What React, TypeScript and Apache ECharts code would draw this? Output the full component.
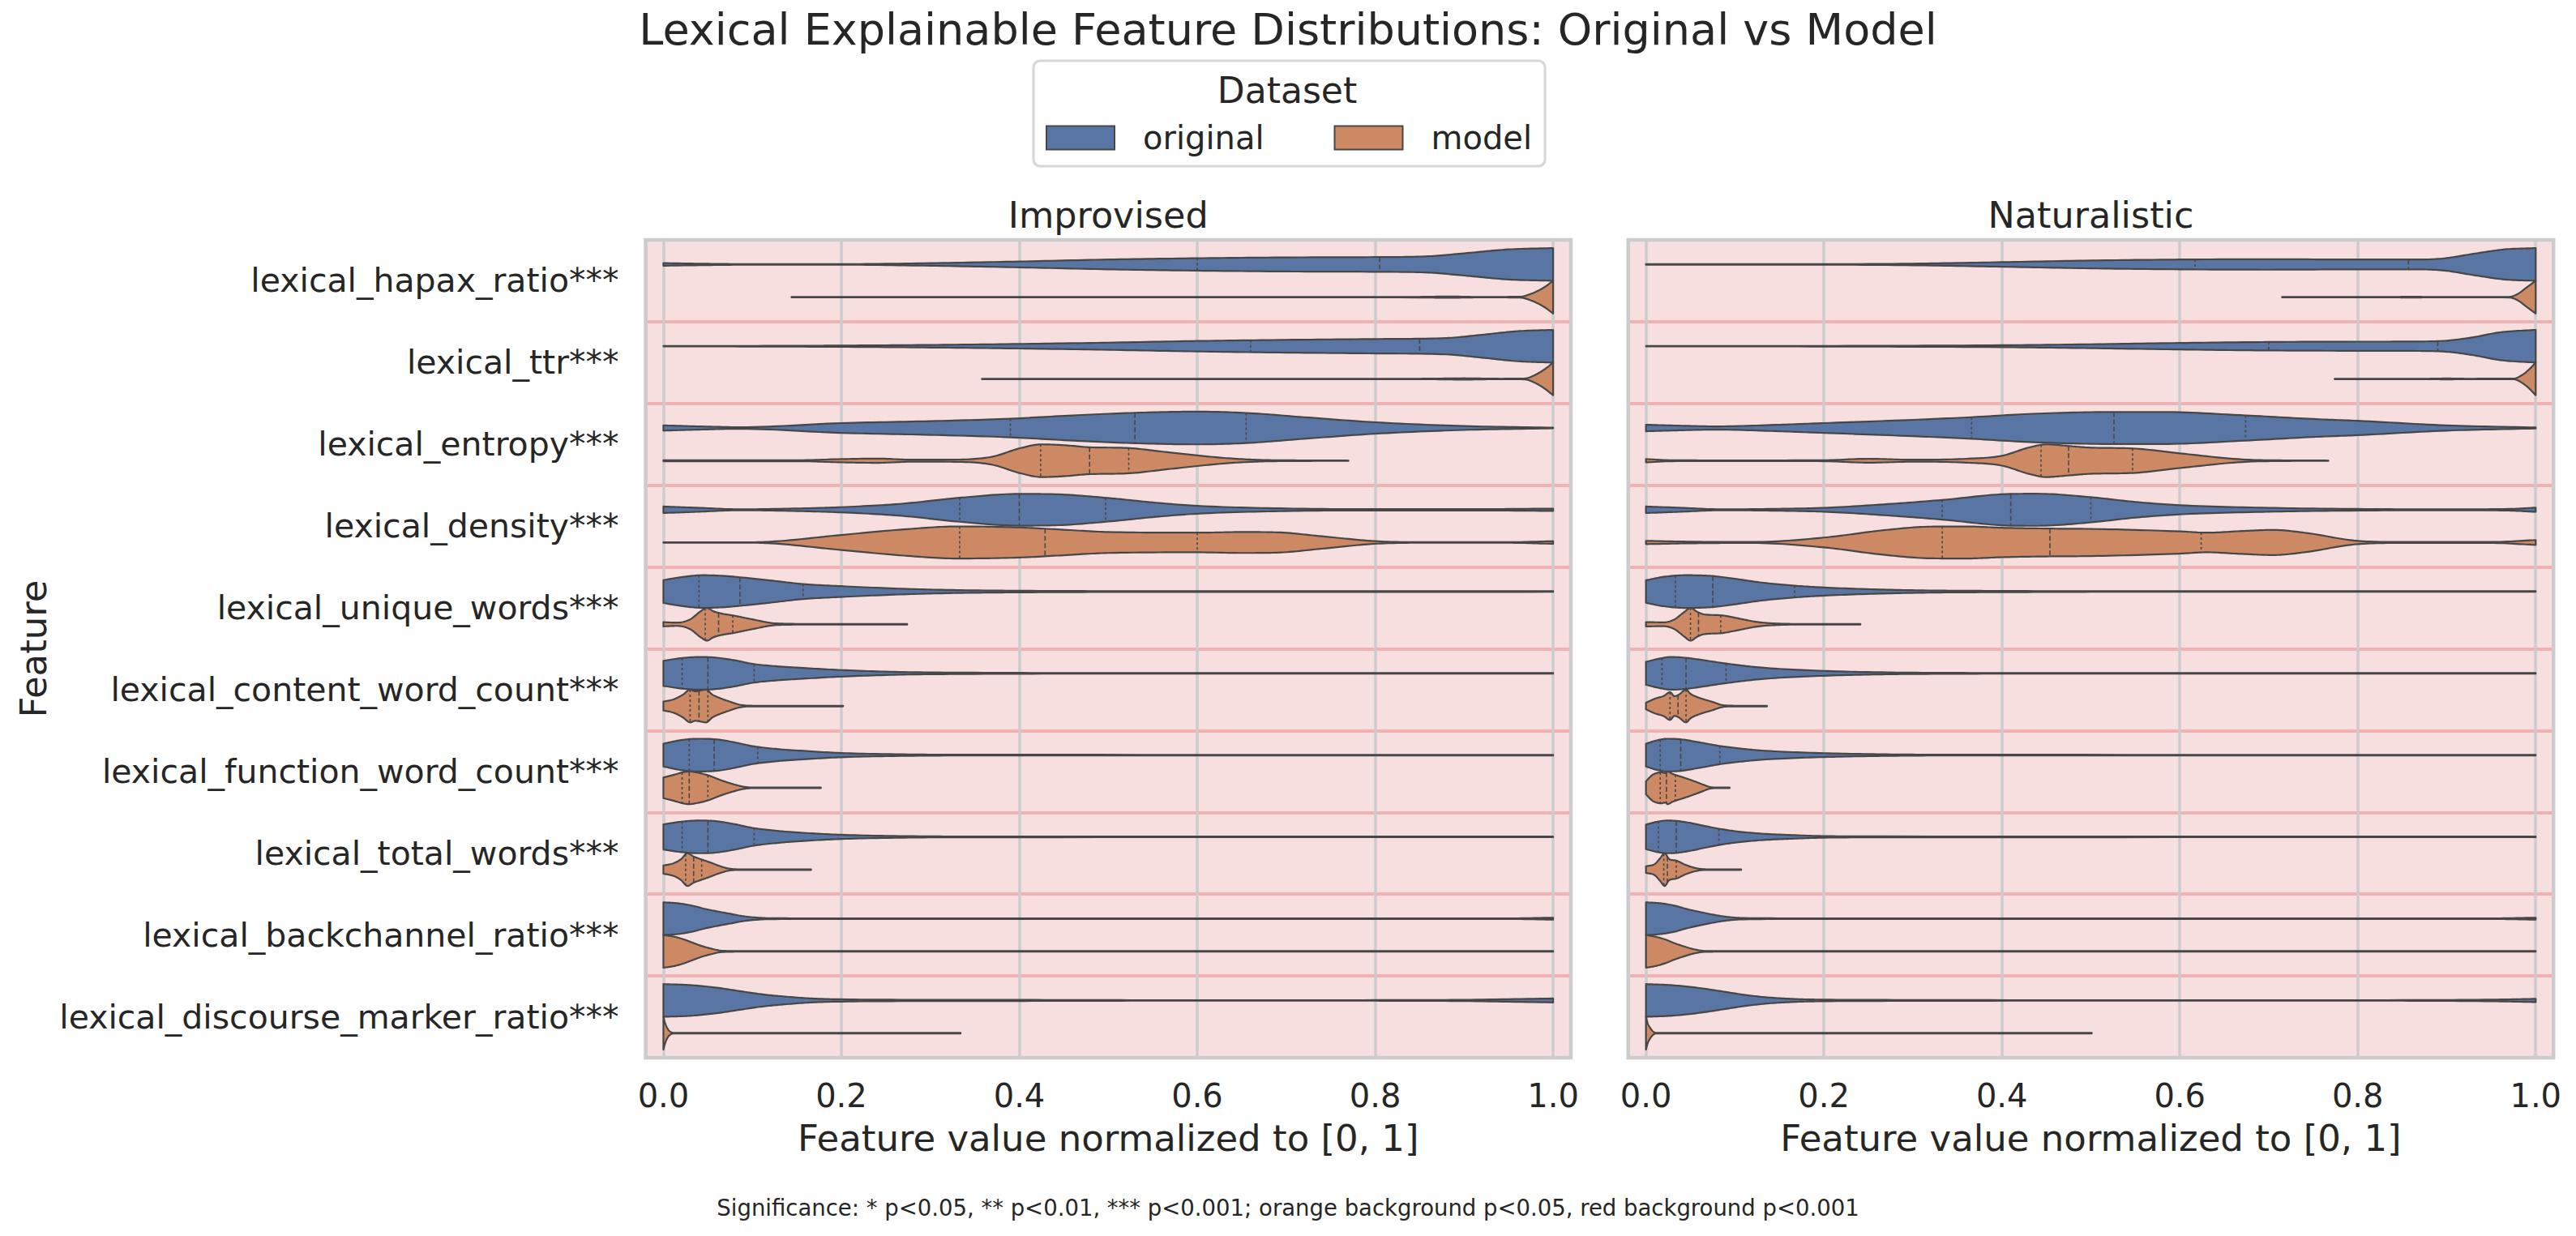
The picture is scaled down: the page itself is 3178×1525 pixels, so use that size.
import React, { useEffect, useRef } from "react";
import * as echarts from "echarts";

// ---------- data ----------
const FEATURES = [
  "lexical_hapax_ratio***",
  "lexical_ttr***",
  "lexical_entropy***",
  "lexical_density***",
  "lexical_unique_words***",
  "lexical_content_word_count***",
  "lexical_function_word_count***",
  "lexical_total_words***",
  "lexical_backchannel_ratio***",
  "lexical_discourse_marker_ratio***",
];

const PANELS = ["Improvised", "Naturalistic"];
const DATASETS = ["original", "model"];

// Violin outlines: [normalized value, relative density (1 = widest point)]
const IMPROVISED_ORIGINAL: [number, number][][] = [
  [[0, 0.08], [0.05, 0.04], [0.1, 0.02], [0.2, 0.02], [0.3, 0.08], [0.4, 0.18], [0.5, 0.3], [0.6, 0.38], [0.7, 0.43], [0.8, 0.45], [0.86, 0.5], [0.9, 0.68], [0.95, 0.92], [1.0, 1.0]],
  [[0, 0.01], [0.1, 0.02], [0.2, 0.04], [0.3, 0.08], [0.4, 0.14], [0.5, 0.22], [0.6, 0.32], [0.7, 0.39], [0.8, 0.44], [0.88, 0.5], [0.92, 0.7], [0.96, 0.92], [1.0, 1.0]],
  [[0, 0.16], [0.04, 0.1], [0.086, 0.05], [0.2, 0.3], [0.3, 0.42], [0.39, 0.57], [0.46, 0.77], [0.53, 0.93], [0.6, 1.0], [0.655, 0.92], [0.72, 0.66], [0.8, 0.35], [0.9, 0.12], [1.0, 0.02]],
  [[0, 0.2], [0.04, 0.12], [0.086, 0.03], [0.15, 0.08], [0.2, 0.16], [0.27, 0.38], [0.33, 0.72], [0.4, 0.97], [0.44, 0.95], [0.5, 0.72], [0.55, 0.45], [0.6, 0.24], [0.7, 0.08], [0.8, 0.04], [0.9, 0.04], [1.0, 0.07]],
  [[0, 0.7], [0.02, 0.88], [0.045, 1.0], [0.07, 0.95], [0.09, 0.85], [0.12, 0.68], [0.157, 0.46], [0.2, 0.33], [0.27, 0.17], [0.33, 0.09], [0.4, 0.05], [0.5, 0.03], [1.0, 0.02]],
  [[0, 0.77], [0.02, 0.93], [0.04, 1.0], [0.055, 0.98], [0.08, 0.8], [0.1, 0.58], [0.13, 0.42], [0.154, 0.34], [0.2, 0.2], [0.27, 0.08], [0.35, 0.04], [0.5, 0.02], [1.0, 0.02]],
  [[0, 0.7], [0.02, 0.92], [0.038, 1.0], [0.06, 0.96], [0.08, 0.78], [0.1, 0.55], [0.13, 0.36], [0.154, 0.27], [0.2, 0.13], [0.27, 0.05], [0.35, 0.025], [1.0, 0.02]],
  [[0, 0.77], [0.02, 0.93], [0.04, 1.0], [0.055, 0.98], [0.08, 0.78], [0.1, 0.55], [0.13, 0.36], [0.154, 0.26], [0.2, 0.13], [0.27, 0.05], [0.35, 0.025], [1.0, 0.02]],
  [[0, 1.0], [0.015, 0.95], [0.032, 0.8], [0.045, 0.62], [0.06, 0.45], [0.075, 0.3], [0.09, 0.15], [0.12, 0.03], [0.2, 0.02], [0.95, 0.02], [1.0, 0.06]],
  [[0, 1.0], [0.03, 0.94], [0.06, 0.78], [0.086, 0.57], [0.11, 0.38], [0.134, 0.25], [0.167, 0.12], [0.2, 0.07], [0.3, 0.04], [0.45, 0.03], [0.6, 0.01], [0.8, 0.02], [0.9, 0.04], [1.0, 0.12]],
];

const IMPROVISED_MODEL: [number, number][][] = [
  [[0.144, 0.015], [0.5, 0.015], [0.85, 0.02], [0.88, 0.04], [0.92, 0.015], [0.963, 0.03], [0.975, 0.2], [0.99, 0.6], [1.0, 1.0]],
  [[0.358, 0.015], [0.85, 0.015], [0.9, 0.04], [0.94, 0.015], [0.968, 0.03], [0.98, 0.25], [0.992, 0.65], [1.0, 1.0]],
  [[0, 0.03], [0.15, 0.03], [0.2, 0.1], [0.24, 0.13], [0.28, 0.06], [0.33, 0.07], [0.37, 0.25], [0.4, 0.75], [0.425, 1.0], [0.45, 0.95], [0.48, 0.82], [0.52, 0.78], [0.57, 0.5], [0.63, 0.17], [0.67, 0.05], [0.72, 0.02], [0.77, 0.01]],
  [[0, 0.01], [0.08, 0.01], [0.12, 0.05], [0.2, 0.46], [0.27, 0.8], [0.33, 0.98], [0.4, 0.92], [0.45, 0.78], [0.5, 0.64], [0.6, 0.6], [0.65, 0.64], [0.69, 0.62], [0.74, 0.38], [0.8, 0.08], [0.85, 0.02], [0.95, 0.02], [1.0, 0.08]],
  [[0, 0.13], [0.015, 0.1], [0.03, 0.3], [0.042, 0.8], [0.049, 1.0], [0.056, 0.8], [0.065, 0.66], [0.078, 0.54], [0.1, 0.3], [0.127, 0.05], [0.17, 0.02], [0.274, 0.02]],
  [[0, 0.27], [0.012, 0.42], [0.022, 0.7], [0.03, 1.0], [0.036, 0.9], [0.04, 0.93], [0.048, 1.0], [0.055, 0.7], [0.062, 0.52], [0.073, 0.3], [0.086, 0.08], [0.1, 0.02], [0.202, 0.02]],
  [[0, 0.63], [0.012, 0.8], [0.022, 0.95], [0.029, 1.0], [0.036, 0.95], [0.05, 0.77], [0.066, 0.44], [0.08, 0.2], [0.09, 0.07], [0.1, 0.02], [0.177, 0.02]],
  [[0, 0.25], [0.012, 0.4], [0.02, 0.65], [0.027, 1.0], [0.034, 0.8], [0.044, 0.6], [0.052, 0.45], [0.06, 0.28], [0.073, 0.07], [0.085, 0.02], [0.166, 0.02]],
  [[0, 1.0], [0.012, 0.9], [0.022, 0.75], [0.032, 0.55], [0.043, 0.33], [0.053, 0.18], [0.066, 0.04], [0.09, 0.02], [1.0, 0.02]],
  [[0, 1.0], [0.002, 0.6], [0.005, 0.25], [0.008, 0.08], [0.012, 0.02], [0.334, 0.02]],
];

const NATURALISTIC_ORIGINAL: [number, number][][] = [
  [[0, 0.02], [0.2, 0.02], [0.3, 0.05], [0.4, 0.14], [0.5, 0.24], [0.6, 0.3], [0.7, 0.32], [0.8, 0.3], [0.86, 0.3], [0.895, 0.36], [0.93, 0.65], [0.965, 0.92], [1.0, 1.0]],
  [[0, 0.01], [0.2, 0.02], [0.4, 0.06], [0.5, 0.12], [0.6, 0.2], [0.7, 0.26], [0.8, 0.28], [0.87, 0.29], [0.9, 0.34], [0.93, 0.55], [0.96, 0.85], [1.0, 1.0]],
  [[0, 0.2], [0.04, 0.14], [0.078, 0.1], [0.15, 0.2], [0.2, 0.3], [0.3, 0.5], [0.366, 0.66], [0.435, 0.87], [0.526, 0.98], [0.58, 0.98], [0.674, 0.77], [0.75, 0.55], [0.8, 0.44], [0.9, 0.16], [1.0, 0.03]],
  [[0, 0.2], [0.04, 0.12], [0.085, 0.03], [0.15, 0.06], [0.2, 0.12], [0.267, 0.33], [0.333, 0.6], [0.41, 0.97], [0.44, 0.98], [0.5, 0.77], [0.55, 0.48], [0.6, 0.28], [0.7, 0.12], [0.8, 0.05], [0.9, 0.03], [0.97, 0.05], [1.0, 0.13]],
  [[0, 0.69], [0.02, 0.9], [0.044, 1.0], [0.06, 0.99], [0.075, 0.95], [0.1, 0.78], [0.13, 0.55], [0.167, 0.36], [0.2, 0.25], [0.267, 0.12], [0.33, 0.06], [0.4, 0.04], [0.5, 0.02], [1.0, 0.02]],
  [[0, 0.7], [0.015, 0.9], [0.028, 1.0], [0.045, 0.95], [0.065, 0.8], [0.09, 0.6], [0.13, 0.35], [0.2, 0.15], [0.27, 0.06], [0.35, 0.03], [0.45, 0.02], [1.0, 0.02]],
  [[0, 0.7], [0.012, 0.9], [0.024, 1.0], [0.04, 0.96], [0.06, 0.78], [0.084, 0.55], [0.11, 0.38], [0.13, 0.28], [0.2, 0.12], [0.27, 0.05], [0.35, 0.025], [1.0, 0.02]],
  [[0, 0.75], [0.012, 0.92], [0.024, 1.0], [0.034, 0.98], [0.05, 0.85], [0.065, 0.68], [0.082, 0.5], [0.1, 0.35], [0.13, 0.2], [0.17, 0.1], [0.2, 0.05], [0.27, 0.03], [1.0, 0.02]],
  [[0, 1.0], [0.015, 0.95], [0.032, 0.8], [0.045, 0.6], [0.06, 0.42], [0.075, 0.25], [0.09, 0.12], [0.11, 0.04], [0.2, 0.02], [0.95, 0.02], [1.0, 0.06]],
  [[0, 1.0], [0.03, 0.93], [0.06, 0.76], [0.086, 0.55], [0.11, 0.35], [0.134, 0.2], [0.167, 0.09], [0.2, 0.05], [0.3, 0.03], [0.6, 0.01], [0.85, 0.02], [0.95, 0.05], [1.0, 0.1]],
];

const NATURALISTIC_MODEL: [number, number][][] = [
  [[0.715, 0.015], [0.84, 0.015], [0.86, 0.03], [0.88, 0.015], [0.97, 0.02], [0.98, 0.2], [0.99, 0.6], [1.0, 1.0]],
  [[0.774, 0.015], [0.88, 0.015], [0.9, 0.03], [0.92, 0.015], [0.975, 0.02], [0.985, 0.25], [0.993, 0.6], [1.0, 1.0]],
  [[0, 0.1], [0.03, 0.03], [0.1, 0.02], [0.2, 0.03], [0.25, 0.12], [0.3, 0.06], [0.36, 0.12], [0.4, 0.3], [0.43, 0.8], [0.45, 1.0], [0.475, 0.9], [0.5, 0.8], [0.547, 0.75], [0.6, 0.45], [0.67, 0.08], [0.72, 0.02], [0.767, 0.01]],
  [[0, 0.1], [0.05, 0.05], [0.12, 0.03], [0.2, 0.3], [0.267, 0.75], [0.32, 0.97], [0.36, 0.98], [0.4, 0.9], [0.454, 0.85], [0.5, 0.83], [0.6, 0.68], [0.63, 0.6], [0.67, 0.7], [0.705, 0.77], [0.74, 0.6], [0.8, 0.1], [0.85, 0.03], [0.95, 0.03], [1.0, 0.15]],
  [[0, 0.13], [0.02, 0.12], [0.032, 0.3], [0.043, 0.75], [0.05, 1.0], [0.058, 0.75], [0.066, 0.6], [0.084, 0.55], [0.1, 0.4], [0.125, 0.14], [0.15, 0.04], [0.18, 0.02], [0.241, 0.02]],
  [[0, 0.2], [0.01, 0.45], [0.02, 0.62], [0.027, 0.85], [0.032, 0.6], [0.037, 0.7], [0.045, 1.0], [0.05, 0.75], [0.06, 0.5], [0.075, 0.25], [0.085, 0.07], [0.1, 0.02], [0.136, 0.02]],
  [[0, 0.4], [0.007, 0.78], [0.013, 0.92], [0.017, 0.95], [0.022, 0.9], [0.024, 1.0], [0.03, 0.85], [0.044, 0.6], [0.057, 0.35], [0.065, 0.18], [0.072, 0.05], [0.08, 0.02], [0.094, 0.02]],
  [[0, 0.2], [0.01, 0.35], [0.016, 0.7], [0.021, 1.0], [0.026, 0.65], [0.034, 0.55], [0.044, 0.3], [0.057, 0.08], [0.07, 0.02], [0.107, 0.02]],
  [[0, 1.0], [0.012, 0.88], [0.022, 0.72], [0.032, 0.5], [0.043, 0.3], [0.053, 0.14], [0.066, 0.03], [0.09, 0.02], [1.0, 0.02]],
  [[0, 1.0], [0.002, 0.6], [0.005, 0.3], [0.008, 0.1], [0.012, 0.02], [0.501, 0.02]],
];

// Quartiles [Q1, median, Q3] per feature
const IMPROVISED_ORIGINAL_QUARTILES = [
  [0.6, 0.805, 1.0], [0.66, 0.85, 1.0], [0.39, 0.53, 0.655], [0.333, 0.4, 0.497], [0.04, 0.086, 0.157],
  [0.021, 0.05, 0.102], [0.029, 0.057, 0.106], [0.021, 0.05, 0.102], [0, 0, 0], [0, 0, 0],
];
const IMPROVISED_MODEL_QUARTILES = [
  [1, 1, 1], [1, 1, 1], [0.424, 0.479, 0.523], [0.333, 0.429, 0.6], [0.047, 0.062, 0.078],
  [0.03, 0.04, 0.05], [0.021, 0.029, 0.05], [0.025, 0.034, 0.043], [0, 0, 0], [0, 0, 0],
];
const NATURALISTIC_ORIGINAL_QUARTILES = [
  [0.617, 0.857, 1.0], [0.7, 0.89, 1.0], [0.366, 0.526, 0.674], [0.333, 0.41, 0.5], [0.033, 0.075, 0.167],
  [0.018, 0.045, 0.09], [0.016, 0.039, 0.083], [0.014, 0.034, 0.082], [0, 0, 0], [0, 0, 0],
];
const NATURALISTIC_MODEL_QUARTILES = [
  [1, 1, 1], [1, 1, 1], [0.444, 0.475, 0.547], [0.333, 0.454, 0.624], [0.05, 0.059, 0.084],
  [0.027, 0.036, 0.045], [0.016, 0.023, 0.033], [0.02, 0.024, 0.034], [0, 0, 0], [0, 0, 0],
];

// ---------- styling ----------
const FONT = "DejaVu Sans";
const TEXT = "#262626";
const BLUE = "#5875a4";
const ORANGE = "#cc8963";
const OUTLINE = "#474747";
const ROW_BG = "#f7dfe0";
const ROW_SEP = "#efb1b2";
const GRID_LINE = "#cccccc";

const GRID_TOP = 296;
const GRID_HEIGHT = 1009;
const GRID_WIDTH = 1141.5;
const GRID_LEFTS = [796.5, 2008.7];

// Monotone cubic (Fritsch–Carlson) curve through the outline points
function monotone(points: [number, number][]) {
  const n = points.length;
  const xs = points.map((p) => p[0]);
  const ys = points.map((p) => p[1]);
  if (n < 2) return (x: number) => ys[0] || 0;
  const d: number[] = [];
  for (let i = 0; i < n - 1; i++) d.push((ys[i + 1] - ys[i]) / (xs[i + 1] - xs[i]));
  const m: number[] = new Array(n).fill(0);
  m[0] = d[0];
  m[n - 1] = d[n - 2];
  for (let i = 1; i < n - 1; i++) m[i] = d[i - 1] * d[i] <= 0 ? 0 : (d[i - 1] + d[i]) / 2;
  for (let i = 0; i < n - 1; i++) {
    if (d[i] === 0) {
      m[i] = 0;
      m[i + 1] = 0;
      continue;
    }
    const a = m[i] / d[i];
    const b = m[i + 1] / d[i];
    const s = a * a + b * b;
    if (s > 9) {
      const t = 3 / Math.sqrt(s);
      m[i] = t * a * d[i];
      m[i + 1] = t * b * d[i];
    }
  }
  return (x: number) => {
    if (x <= xs[0]) return ys[0];
    if (x >= xs[n - 1]) return ys[n - 1];
    let i = 0;
    while (i < n - 2 && x > xs[i + 1]) i++;
    const h = xs[i + 1] - xs[i];
    const t = (x - xs[i]) / h;
    const t2 = t * t;
    const t3 = t2 * t;
    return (
      (2 * t3 - 3 * t2 + 1) * ys[i] +
      (t3 - 2 * t2 + t) * h * m[i] +
      (-2 * t3 + 3 * t2) * ys[i + 1] +
      (t3 - t2) * h * m[i + 1]
    );
  };
}

function violinRenderer(
  profiles: [number, number][][],
  quartiles: number[][],
  side: number,
  fill: string
) {
  return (params: any, api: any) => {
    const idx = params.dataIndex;
    const cat = api.value(1);
    const band = api.size([0, 1])[1];
    const half = 0.2 * band;
    const offset = side * 0.2 * band;
    const prof = profiles[idx];
    const f = monotone(prof);
    const xsSample: number[] = [];
    for (let i = 0; i < prof.length - 1; i++) {
      const steps = 14;
      for (let s = 0; s < steps; s++) xsSample.push(prof[i][0] + ((prof[i + 1][0] - prof[i][0]) * s) / steps);
    }
    xsSample.push(prof[prof.length - 1][0]);
    const top: number[][] = [];
    const bottom: number[][] = [];
    for (const x of xsSample) {
      const p = api.coord([x, cat]);
      const cy = p[1] + offset;
      const w = Math.max(0, f(x)) * half;
      top.push([p[0], cy - w]);
      bottom.push([p[0], cy + w]);
    }
    const children: any[] = [
      {
        type: "polygon",
        shape: { points: top.concat(bottom.reverse()) },
        style: { fill, stroke: OUTLINE, lineWidth: 2.2, lineJoin: "round" },
      },
    ];
    const xmin = prof[0][0];
    const xmax = prof[prof.length - 1][0];
    quartiles[idx].forEach((q, k) => {
      if (q <= xmin + 1e-6 || q >= xmax - 1e-6) return;
      const p = api.coord([q, cat]);
      const cy = p[1] + offset;
      const w = Math.max(0, f(q)) * half;
      children.push({
        type: "line",
        shape: { x1: p[0], y1: cy - w, x2: p[0], y2: cy + w },
        style: { stroke: OUTLINE, lineWidth: 1.6, lineDash: k === 1 ? [6, 3] : [3, 3] },
      });
    });
    return { type: "group", children };
  };
}

export default function App() {
  const ref = useRef<HTMLDivElement>(null);

  useEffect(() => {
    document.body.style.margin = "0";
    if (!ref.current) return;
    const chart = echarts.init(ref.current, undefined, { renderer: "svg" });

    const profilesByPanel = [
      [IMPROVISED_ORIGINAL, IMPROVISED_MODEL],
      [NATURALISTIC_ORIGINAL, NATURALISTIC_MODEL],
    ];
    const quartilesByPanel = [
      [IMPROVISED_ORIGINAL_QUARTILES, IMPROVISED_MODEL_QUARTILES],
      [NATURALISTIC_ORIGINAL_QUARTILES, NATURALISTIC_MODEL_QUARTILES],
    ];
    const colors = [BLUE, ORANGE];

    const series: any[] = [];
    PANELS.forEach((_, pi) => {
      DATASETS.forEach((name, di) => {
        series.push({
          type: "custom",
          name,
          xAxisIndex: pi,
          yAxisIndex: pi,
          z: 3,
          itemStyle: { color: colors[di], borderColor: OUTLINE, borderWidth: 2 },
          encode: { x: 0, y: 1 },
          data: FEATURES.map((_, i) => [0, i]),
          renderItem: violinRenderer(
            profilesByPanel[pi][di],
            quartilesByPanel[pi][di],
            di === 0 ? -1 : 1,
            colors[di]
          ),
        });
      });
    });

    const titleStyle = (size: number) => ({
      fontSize: size,
      fontWeight: "normal" as const,
      color: TEXT,
      fontFamily: FONT,
    });

    const option: any = {
      animation: false,
      backgroundColor: "#ffffff",
      textStyle: { fontFamily: FONT },
      title: [
        {
          text: "Lexical Explainable Feature Distributions: Original vs Model",
          left: 1589,
          top: 9,
          padding: 0,
          textAlign: "center",
          textStyle: titleStyle(54),
        },
        { text: "Dataset", left: 1588, top: 89, padding: 0, textAlign: "center", textStyle: titleStyle(44) },
        ...PANELS.map((p, i) => ({
          text: p,
          left: GRID_LEFTS[i] + GRID_WIDTH / 2,
          top: 243,
          padding: 0,
          textAlign: "center",
          textStyle: titleStyle(44.5),
        })),
        {
          text: "Significance: * p<0.05, ** p<0.01, *** p<0.001; orange background p<0.05, red background p<0.001",
          left: 1589,
          top: 1476,
          padding: 0,
          textAlign: "center",
          textStyle: titleStyle(27.5),
        },
      ],
      legend: {
        left: 1275,
        top: 75,
        orient: "horizontal",
        selectedMode: false,
        icon: "rect",
        itemWidth: 84,
        itemHeight: 29,
        itemGap: 86,
        padding: [75, 16, 15, 15],
        borderColor: "#d6d6d6",
        borderWidth: 3,
        borderRadius: 8,
        backgroundColor: "#ffffff",
        textStyle: { fontSize: 40, color: TEXT, fontFamily: FONT, padding: [0, 0, 0, 30] },
        data: DATASETS.map((name, i) => ({
          name,
          itemStyle: { color: colors[i], borderColor: OUTLINE, borderWidth: 2 },
        })),
      },
      grid: GRID_LEFTS.map((left) => ({
        left,
        top: GRID_TOP,
        width: GRID_WIDTH,
        height: GRID_HEIGHT,
        show: true,
        backgroundColor: ROW_BG,
        borderWidth: 0,
      })),
      xAxis: PANELS.map((_, i) => ({
        type: "value",
        gridIndex: i,
        min: -0.02,
        max: 1.02,
        z: 2,
        name: "Feature value normalized to [0, 1]",
        nameLocation: "middle",
        nameGap: 77,
        nameTextStyle: { fontSize: 45, color: TEXT, fontFamily: FONT },
        axisLine: { show: false },
        axisTick: { show: false },
        axisLabel: {
          fontSize: 40,
          color: TEXT,
          fontFamily: FONT,
          margin: 27,
          formatter: (v: number) => (v < -1e-6 || v > 1 + 1e-6 ? "" : Math.abs(v).toFixed(1)),
        },
        splitLine: { show: true, lineStyle: { color: GRID_LINE, width: 3.5 } },
      })),
      yAxis: PANELS.map((_, i) => ({
        type: "category",
        gridIndex: i,
        data: FEATURES,
        inverse: true,
        z: 1,
        name: i === 0 ? "Feature" : "",
        nameLocation: "middle",
        nameGap: 733,
        nameTextStyle: { fontSize: 45, color: TEXT, fontFamily: FONT },
        axisLine: { show: false },
        axisTick: { show: false },
        axisLabel: { show: i === 0, fontSize: 41, color: TEXT, fontFamily: FONT, margin: 33 },
        splitLine: { show: true, lineStyle: { color: ROW_SEP, width: 4 } },
      })),
      graphic: GRID_LEFTS.map((left) => ({
        type: "rect",
        z: 10,
        silent: true,
        shape: { x: left, y: GRID_TOP, width: GRID_WIDTH, height: GRID_HEIGHT },
        style: { fill: "none", stroke: GRID_LINE, lineWidth: 4.5 },
      })),
      series,
    };

    chart.setOption(option);
    return () => chart.dispose();
  }, []);

  return <div ref={ref} style={{ width: 3178, height: 1525 }} />;
}
